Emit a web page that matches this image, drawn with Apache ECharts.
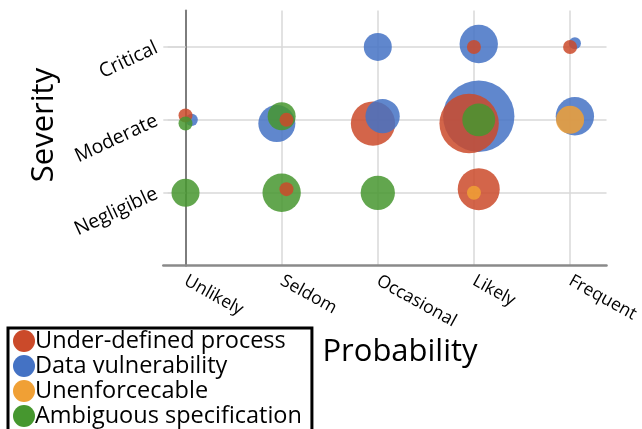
<!DOCTYPE html>
<html>
<head>
<meta charset="utf-8">
<script src="https://cdn.jsdelivr.net/npm/echarts@6/dist/echarts.min.js"></script>
<style>
  html, body { margin: 0; padding: 0; background: #fff; }
  #chart { width: 642px; height: 429px; }
</style>
</head>
<body>
<div id="chart"></div>
<script>
// Axis categories
const probabilityLabels = ['Unlikely', 'Seldom', 'Occasional', 'Likely', 'Frequent'];
const severityLabels = ['Negligible', 'Moderate', 'Critical'];

// Issue types (legend order) and their colours
const seriesNames = ['Under-defined process', 'Data vulnerability', 'Unenforcecable', 'Ambiguous specification'];
const seriesColors = ['#cb4a2a', '#4472c4', '#f0a035', '#46972f'];

// Points: [probability (1..5), severity (1..3), number of findings]
// small offsets around the whole numbers keep coincident bubbles apart
const underDefined = [
  [4, 3, 1], [5, 3, 1],
  [1, 2.06, 1], [2.05, 2, 1], [2.95, 1.95, 10], [3.95, 1.95, 18],
  [2.05, 1.05, 1], [4.05, 1.05, 9]
];
const dataVulnerability = [
  [3, 3, 4], [4.05, 3.04, 7.5], [5.05, 3.05, 0.75],
  [1.065, 2, 0.75], [1.95, 1.95, 7], [3.05, 2.05, 6], [4.05, 2.05, 26], [5.05, 2.05, 7.5]
];
const unenforceable = [
  [5, 2, 4], [4, 1, 1]
];
const ambiguousSpec = [
  [1, 1.95, 1], [2, 2.05, 4], [4.05, 2, 5.5],
  [1, 1, 4], [2, 1, 7.5], [3, 1, 6]
];

const seriesData = [underDefined, dataVulnerability, unenforceable, ambiguousSpec];
// bottom-to-top stacking for bubbles of equal size
const stackRank = [1, 0, 2, 3];

const FONT = '"Open Sans", "Noto Sans", sans-serif';
const GRID_COLOR = '#d9d9d9';

// Bigger bubbles are painted first so that smaller ones stay visible on top
const points = [];
seriesData.forEach((list, s) => list.forEach(p => points.push({ s, p })));
points.sort((a, b) =>
  (Math.ceil(b.p[2]) - Math.ceil(a.p[2])) || (stackRank[a.s] - stackRank[b.s]));

const series = points.map(({ s, p }) => ({
  type: 'scatter',
  name: seriesNames[s],
  data: [p],
  symbolSize: v => 14 * Math.sqrt(v[2]),
  itemStyle: { color: seriesColors[s], opacity: 0.85 },
  silent: true,
  emphasis: { disabled: true }
}));

const probTicks = probabilityLabels.map((_, i) => i + 1);
const sevTicks = severityLabels.map((_, i) => i + 1);

const chart = echarts.init(document.getElementById('chart'), null, { renderer: 'canvas' });
chart.setOption({
  animation: false,
  backgroundColor: '#fff',
  grid: { left: 163.3, right: 32, top: 10.5, bottom: 163.3, containLabel: false },
  xAxis: {
    type: 'value',
    min: 0.769,
    max: 5.379,
    axisLine: { show: true, lineStyle: { color: '#8a8a8a', width: 2.5 } },
    axisTick: { show: false, customValues: probTicks },
    axisLabel: {
      customValues: probTicks,
      formatter: v => probabilityLabels[Math.round(v) - 1] || '',
      rotate: -29,
      margin: 14,
      fontSize: 17.5,
      fontFamily: FONT,
      color: '#000'
    },
    splitLine: { show: true, lineStyle: { color: GRID_COLOR, width: 1.5 } }
  },
  yAxis: {
    type: 'value',
    min: 0,
    max: 3.5,
    offset: -22.4,
    axisLine: { show: true, onZero: false, lineStyle: { color: '#7d7d7d', width: 2 } },
    axisTick: { show: true, customValues: sevTicks, length: 18, lineStyle: { color: GRID_COLOR, width: 1.5 } },
    axisLabel: {
      customValues: sevTicks,
      formatter: v => severityLabels[Math.round(v) - 1] || '',
      rotate: 25,
      margin: 29,
      fontSize: 19.5,
      fontFamily: FONT,
      color: '#000'
    },
    splitLine: { show: true, lineStyle: { color: GRID_COLOR, width: 1.5 } }
  },
  legend: {
    data: seriesNames,
    orient: 'vertical',
    left: 8,
    top: 328,
    height: 200,
    padding: [1, 10, 6, 5],
    itemGap: 1,
    itemWidth: 22,
    itemHeight: 22,
    icon: 'circle',
    borderColor: '#000',
    borderWidth: 3,
    borderRadius: 0,
    itemStyle: { opacity: 1 },
    textStyle: { fontSize: 23.5, lineHeight: 23, fontFamily: FONT, color: '#000', padding: [0, 0, 0, -5] }
  },
  graphic: [
    {
      type: 'text',
      x: 44, y: 125,
      rotation: Math.PI / 2,
      style: { text: 'Severity', fontSize: 31, fontFamily: FONT, fill: '#000', align: 'center', verticalAlign: 'middle' }
    },
    {
      type: 'text',
      x: 400, y: 352,
      style: { text: 'Probability', fontSize: 31, fontFamily: FONT, fill: '#000', align: 'center', verticalAlign: 'middle' }
    }
  ],
  series
});
</script>
</body>
</html>
